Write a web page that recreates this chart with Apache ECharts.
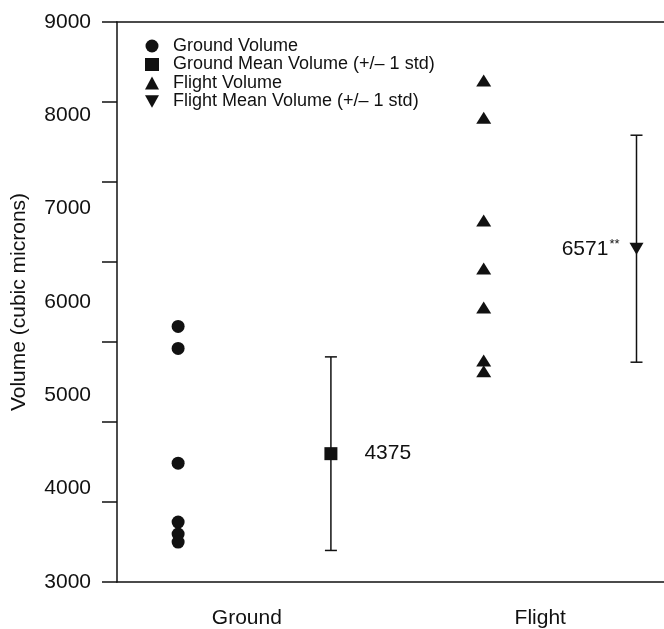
<!DOCTYPE html>
<html>
<head>
<meta charset="utf-8">
<script src="https://cdn.jsdelivr.net/npm/echarts@6/dist/echarts.min.js"></script>
<style>
  html, body { margin: 0; padding: 0; background: #fff; }
  #chart { width: 664px; height: 629px; }
</style>
</head>
<body>
<div id="chart"></div>
<script>
// groups on the x axis
var groupNames = ['Ground', 'Flight'];
var groupLabelAt = [0.45, 2.37];

// individual volumes (cubic microns)
var groundVolume = [5738, 5503, 4273, 3642, 3513, 3428];
var flightVolume = [8372, 7973, 6872, 6358, 5941, 5374, 5257];

// means and +/- 1 std
var meanVolume = [4375, 6571];
var stdVolume = [1037, 1216];
var meanText = ['4375', '6571'];

var seriesNames = [
    'Ground Volume',
    'Ground Mean Volume (+/\u2013 1 std)',
    'Flight Volume',
    'Flight Mean Volume (+/\u2013 1 std)'
];

var ink = '#111';
var font = 'Liberation Sans, Arial, Helvetica, sans-serif';

var groundPts = groundVolume.map(function (v) { return [0, v]; });
var flightPts = flightVolume.map(function (v) { return [2, v]; });
var barData = meanVolume.map(function (m, i) {
    return [i * 2 + 1, m - stdVolume[i], m + stdVolume[i]];
});

var myChart = echarts.init(document.getElementById('chart'));
var option = {
    backgroundColor: '#fff',
    animation: false,
    textStyle: { fontFamily: font, color: ink },
    grid: { left: 117, right: 0, top: 22, bottom: 46 },
    legend: {
        data: seriesNames,
        orient: 'vertical',
        left: 140,
        top: 32,
        itemWidth: 14,
        itemHeight: 13,
        itemGap: 0.5,
        selectedMode: false,
        textStyle: { fontSize: 18, color: ink, fontFamily: font, padding: [0, 0, 0, 9] }
    },
    xAxis: [{
        type: 'value',
        min: -0.4,
        max: 3.18,
        splitLine: { show: false },
        axisTick: { show: false },
        axisLine: { show: true, onZero: false, lineStyle: { color: ink, width: 1.5 } },
        axisLabel: {
            customValues: groupLabelAt,
            margin: 26,
            fontSize: 21,
            color: ink,
            formatter: function (v) {
                return v < 1.5 ? groupNames[0] : groupNames[1];
            }
        }
    }, {
        type: 'value',
        position: 'top',
        min: -0.4,
        max: 3.18,
        splitLine: { show: false },
        axisTick: { show: false },
        axisLabel: { show: false },
        axisLine: { show: true, onZero: false, lineStyle: { color: ink, width: 1.5 } }
    }],
    yAxis: [{
        type: 'value',
        min: 3000,
        max: 9000,
        interval: 1000,
        name: 'Volume (cubic microns)',
        nameLocation: 'middle',
        nameGap: 87,
        nameTextStyle: { fontSize: 21, color: ink, fontFamily: font },
        splitLine: { show: false },
        axisTick: { show: false },
        axisLine: { show: true, onZero: false, lineStyle: { color: ink, width: 1.5 } },
        axisLabel: {
            fontSize: 21,
            color: ink,
            margin: 26,
            formatter: function (v) { return String(v); }
        }
    }, {
        // tick marks of the original sit at sevenths of the range
        type: 'value',
        position: 'left',
        min: 0,
        max: 7,
        interval: 1,
        splitLine: { show: false },
        axisLine: { show: false, onZero: false },
        axisLabel: { show: false },
        axisTick: { show: true, length: 15, lineStyle: { color: ink, width: 1.5 } }
    }],
    series: [
        {
            name: seriesNames[0],
            type: 'scatter',
            symbol: 'circle',
            symbolSize: 13,
            itemStyle: { color: ink, opacity: 1 },
            data: groundPts,
            z: 3
        },
        {
            name: seriesNames[1],
            type: 'scatter',
            symbol: 'rect',
            symbolSize: 13,
            itemStyle: { color: ink, opacity: 1 },
            data: [[1, meanVolume[0]]],
            label: {
                show: true,
                position: 'right',
                distance: 27,
                fontSize: 21,
                color: ink,
                formatter: meanText[0]
            },
            z: 4
        },
        {
            name: seriesNames[2],
            type: 'scatter',
            symbol: 'triangle',
            symbolSize: [15, 12],
            itemStyle: { color: ink, opacity: 1 },
            data: flightPts,
            z: 3
        },
        {
            name: seriesNames[3],
            type: 'scatter',
            symbol: 'path://M0,0 L10,0 L5,9 Z',
            symbolSize: [14, 12],
            itemStyle: { color: ink, opacity: 1 },
            data: [[3, meanVolume[1]]],
            label: {
                show: true,
                position: 'left',
                distance: 10,
                formatter: '{a|' + meanText[1] + '}{s|**}',
                rich: {
                    a: { fontSize: 21, color: ink, fontFamily: font },
                    s: { fontSize: 13, color: ink, fontFamily: font, verticalAlign: 'top', padding: [0, 0, 8, 1] }
                }
            },
            z: 4
        },
        {
            name: 'errorbars',
            type: 'custom',
            data: barData,
            z: 2,
            renderItem: function (params, api) {
                var x = api.value(0);
                var lo = api.coord([x, api.value(1)]);
                var hi = api.coord([x, api.value(2)]);
                var w = 6;
                var st = { stroke: ink, lineWidth: 1.5 };
                return {
                    type: 'group',
                    children: [
                        { type: 'line', shape: { x1: hi[0], y1: hi[1], x2: lo[0], y2: lo[1] }, style: st },
                        { type: 'line', shape: { x1: hi[0] - w, y1: hi[1], x2: hi[0] + w, y2: hi[1] }, style: st },
                        { type: 'line', shape: { x1: lo[0] - w, y1: lo[1], x2: lo[0] + w, y2: lo[1] }, style: st }
                    ]
                };
            }
        }
    ]
};
myChart.setOption(option);
</script>
</body>
</html>
